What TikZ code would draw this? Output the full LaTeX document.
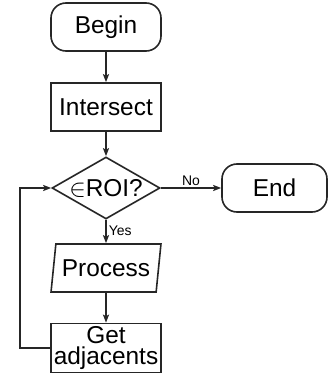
\documentclass[tikz,border=0pt]{standalone}
\usepackage{fontspec}
\setmainfont{Liberation Sans}
\usetikzlibrary{shapes.geometric, arrows.meta}
\definecolor{linegray}{HTML}{262626}
\tikzstyle{terminal}=[rounded corners=15bp, minimum width=110bp, minimum height=48bp, inner sep=0, draw=linegray, line width=1.6bp]
\tikzstyle{stepbox}=[rectangle, minimum width=110bp, minimum height=48bp, inner sep=0, draw=linegray, line width=1.6bp]
\tikzstyle{decision}=[diamond, minimum width=108bp, minimum height=62bp, inner sep=0, draw=linegray, line width=1.6bp]
\tikzstyle{iobox}=[trapezium, trapezium left angle=76, trapezium right angle=104, trapezium stretches=true, minimum width=110bp, minimum height=48bp, inner sep=0, draw=linegray, line width=1.6bp]
\tikzstyle{flow}=[draw=linegray, line width=1.6bp, -{Stealth[length=8bp, width=6bp, inset=1.5bp]}]
\tikzstyle{small}=[font=\fontsize{14}{16}\selectfont, inner sep=2bp]

\begin{document}
\begin{tikzpicture}[x=1bp, y=1bp, font=\fontsize{24.5}{20}\selectfont]
\useasboundingbox (0,0) rectangle (328,379);

\node [terminal] (begin)  at (106, 352) {Begin};
\node [stepbox]  (isect)  at (106, 272) {Intersect};
\node [decision] (roi)    at (106, 191) {\makebox[0pt]{$\in$ROI?}};
\node [terminal, minimum width=105bp] (end) at (274.5, 191) {End};
\node [iobox]    (proc)   at (106, 111) {Process};
\node [stepbox, align=center, minimum height=49bp] (adj) at (106, 31) {Get\\[2bp]adjacents};

\draw [flow] (begin) -- (isect);
\draw [flow] (isect) -- (roi);
\draw [flow] (roi.east) -- node [small, above] {No} (end.west);
\draw [flow] (roi.south) -- node [small, right, pos=0.45] {Yes} (proc.north);
\draw [flow] (proc) -- (adj);
\draw [flow] (adj.west) -- ++(-30,0) |- (roi.west);

\end{tikzpicture}
\end{document}
